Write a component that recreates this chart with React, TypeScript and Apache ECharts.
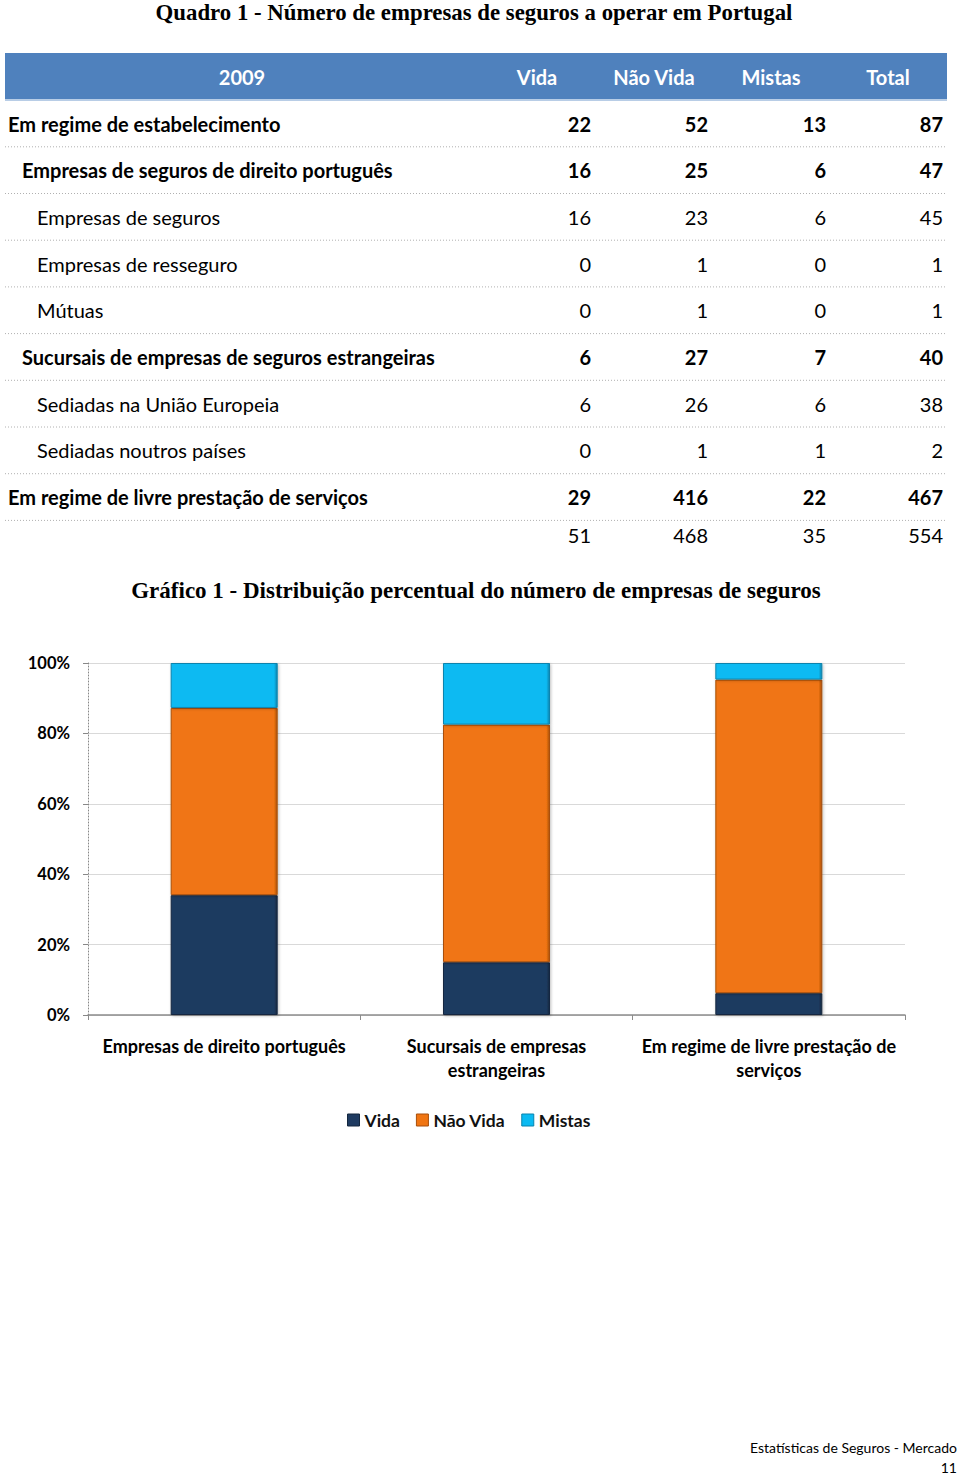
import React, { useEffect, useRef } from "react";
import * as echarts from "echarts";

// ---- Table data (Quadro 1) ----
const tableTitle = "Quadro 1 - Número de empresas de seguros a operar em Portugal";
const headerYear = "2009";
const headerCols = ["Vida", "Não Vida", "Mistas", "Total"];
const rowLabels = [
  "Em regime de estabelecimento",
  "Empresas de seguros de direito português",
  "Empresas de seguros",
  "Empresas de resseguro",
  "Mútuas",
  "Sucursais de empresas de seguros estrangeiras",
  "Sediadas na União Europeia",
  "Sediadas noutros países",
  "Em regime de livre prestação de serviços",
  "",
];
const rowLevels = [0, 1, 2, 2, 2, 1, 2, 2, 0, 0];
const rowBold = [true, true, false, false, false, true, false, false, true, false];
const colVida = [22, 16, 16, 0, 0, 6, 6, 0, 29, 51];
const colNaoVida = [52, 25, 23, 1, 1, 27, 26, 1, 416, 468];
const colMistas = [13, 6, 6, 0, 0, 7, 6, 1, 22, 35];
const colTotal = [87, 47, 45, 1, 1, 40, 38, 2, 467, 554];

// ---- Chart data (Gráfico 1) ----
const chartTitle = "Gráfico 1 - Distribuição percentual do número de empresas de seguros";
const categories = [
  "Empresas de direito português",
  "Sucursais de empresas\nestrangeiras",
  "Em regime de livre prestação de\nserviços",
];
const seriesNames = ["Vida", "Não Vida", "Mistas"];
const countVida = [16, 6, 29];
const countNaoVida = [25, 27, 416];
const countMistas = [6, 7, 22];
const yTicks = ["0%", "20%", "40%", "60%", "80%", "100%"];

const footerLine1 = "Estatísticas de Seguros - Mercado";
const footerLine2 = "11";

const SANS = "Lato, 'Open Sans', sans-serif";
const SERIF = "'Liberation Serif', 'DejaVu Serif', serif";

export default function App() {
  const ref = useRef<HTMLDivElement>(null);

  useEffect(() => {
    if (!ref.current) return;
    const chart = echarts.init(ref.current, null, { renderer: "svg" });

    const totals = countVida.map((v, i) => v + countNaoVida[i] + countMistas[i]);
    const pct = (arr: number[]) => arr.map((v, i) => (v / totals[i]) * 100);
    const colors = ["#1f3b61", "#f07512", "#0bbaf2"];
    const borders = ["#14273f", "#a84f0a", "#0883ad"];

    const graphics: any[] = [];
    graphics.push({
      type: "text",
      x: 474,
      y: 12,
      style: {
        text: tableTitle,
        font: `bold 22.8px ${SERIF}`,
        fill: "#000",
        textAlign: "center",
        textVerticalAlign: "middle",
      },
    });
    graphics.push({
      type: "rect",
      shape: { x: 5, y: 53, width: 942, height: 47 },
      style: { fill: "#4f81bd" },
    });
    graphics.push({
      type: "line",
      shape: { x1: 5, y1: 100, x2: 947, y2: 100 },
      style: { stroke: "#b8cde6", lineWidth: 2 },
    });
    const headerFont = `bold 20px ${SANS}`;
    graphics.push({
      type: "text",
      x: 242,
      y: 77,
      style: { text: headerYear, font: headerFont, fill: "#fff", textAlign: "center", textVerticalAlign: "middle" },
    });
    const headerX = [537, 654, 771, 888];
    headerCols.forEach((h, i) => {
      graphics.push({
        type: "text",
        x: headerX[i],
        y: 77,
        style: { text: h, font: headerFont, fill: "#fff", textAlign: "center", textVerticalAlign: "middle" },
      });
    });

    const rowY0 = 123.5;
    const rowH = 46.7;
    const labelX = [8, 22, 37];
    const numX = [591, 708, 826, 943];
    const cols = [colVida, colNaoVida, colMistas, colTotal];
    rowLabels.forEach((lab, r) => {
      const y = r === rowLabels.length - 1 ? 535 : rowY0 + r * rowH;
      const font = `${rowBold[r] ? "bold " : ""}20px ${SANS}`;
      if (lab) {
        graphics.push({
          type: "text",
          x: labelX[rowLevels[r]],
          y,
          style: { text: lab, font, fill: "#000", textAlign: "left", textVerticalAlign: "middle" },
        });
      }
      cols.forEach((c, ci) => {
        graphics.push({
          type: "text",
          x: numX[ci],
          y,
          style: { text: String(c[r]), font, fill: "#000", textAlign: "right", textVerticalAlign: "middle" },
        });
      });
      if (r < rowLabels.length - 1) {
        const ly = rowY0 + r * rowH + 23.3;
        graphics.push({
          type: "line",
          shape: { x1: 5, y1: ly, x2: 947, y2: ly },
          style: { stroke: "#b0b0b0", lineWidth: 1, lineDash: [1, 2] },
        });
      }
    });

    graphics.push({
      type: "text",
      x: 476,
      y: 590,
      style: {
        text: chartTitle,
        font: `bold 23px ${SERIF}`,
        fill: "#000",
        textAlign: "center",
        textVerticalAlign: "middle",
      },
    });
    graphics.push({
      type: "text",
      x: 957,
      y: 1447,
      style: { text: footerLine1, font: `14px ${SANS}`, fill: "#000", textAlign: "right", textVerticalAlign: "middle" },
    });
    graphics.push({
      type: "text",
      x: 957,
      y: 1467,
      style: { text: footerLine2, font: `14px ${SANS}`, fill: "#000", textAlign: "right", textVerticalAlign: "middle" },
    });

    const seriesData = [pct(countVida), pct(countNaoVida), pct(countMistas)];

    chart.setOption({
      animation: false,
      backgroundColor: "#fff",
      graphic: graphics,
      grid: { left: 88, right: 55, top: 663, bottom: 461, containLabel: false },
      legend: {
        top: 1106,
        left: 342,
        itemWidth: 12,
        itemHeight: 12,
        itemGap: 16,
        icon: "rect",
        data: seriesNames.map((n, i) => ({ name: n, itemStyle: { color: colors[i], borderColor: borders[i], borderWidth: 1 } })),
        textStyle: { fontFamily: SANS, fontWeight: "bold", fontSize: 17.5, color: "#111" },
      },
      xAxis: {
        type: "category",
        data: categories,
        axisLine: { lineStyle: { color: "#8c8c8c", width: 1.5 } },
        axisTick: { show: true, length: 5, lineStyle: { color: "#8c8c8c" } },
        axisLabel: {
          margin: 19,
          fontFamily: SANS,
          fontWeight: "bold",
          fontSize: 18,
          color: "#000",
          lineHeight: 24,
          interval: 0,
        },
      },
      yAxis: {
        type: "value",
        min: 0,
        max: 100,
        interval: 20,
        axisLine: { show: true, lineStyle: { color: "#888", type: [1, 2] } },
        axisTick: { show: true, length: 5, lineStyle: { color: "#888" } },
        splitLine: { lineStyle: { color: "#d9d9d9" } },
        axisLabel: {
          margin: 18,
          fontFamily: SANS,
          fontWeight: "bold",
          fontSize: 16.5,
          color: "#000",
          formatter: (v: number) => yTicks[Math.round(v / 20)],
        },
      },
      series: seriesNames.map((name, i) => ({
        name,
        type: "bar",
        stack: "total",
        barWidth: 107,
        data: seriesData[i],
        itemStyle: {
          color: new echarts.graphic.LinearGradient(0, 0, 1, 0, [
            { offset: 0, color: colors[i] },
            { offset: 0.5, color: colors[i] },
            { offset: 0.97, color: colors[i] },
            { offset: 1, color: borders[i] },
          ]),
          borderColor: borders[i],
          borderWidth: 1,
          shadowColor: "rgba(0,0,0,0.25)",
          shadowBlur: 3,
          shadowOffsetX: 1,
          shadowOffsetY: 1,
        },
      })),
    });

    return () => chart.dispose();
  }, []);

  return (
    <div
      ref={ref}
      style={{ position: "absolute", left: 0, top: 0, width: 960, height: 1476, background: "#fff" }}
    />
  );
}
